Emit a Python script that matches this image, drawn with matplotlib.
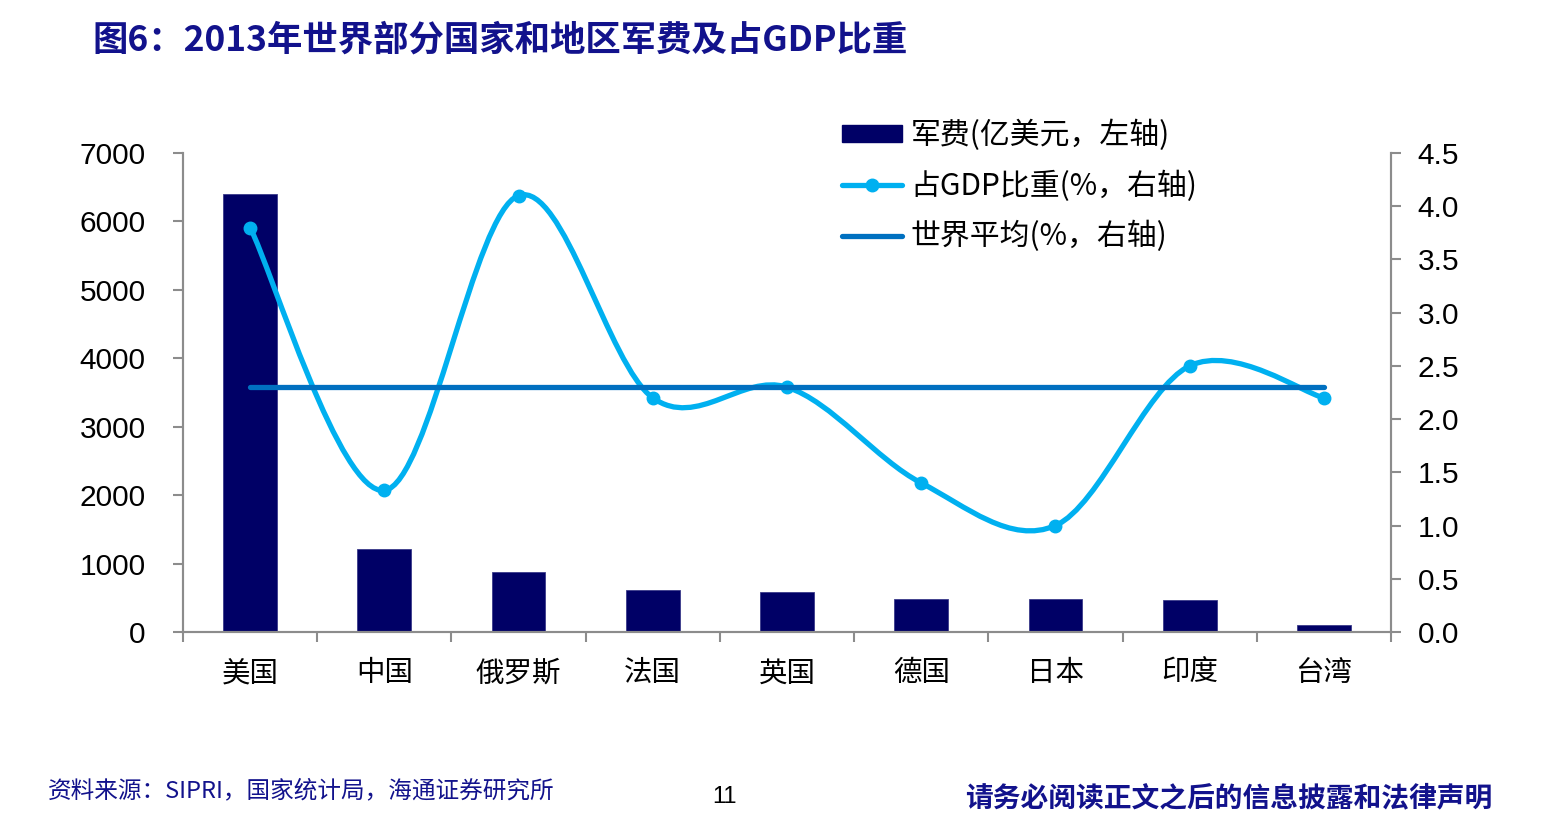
import numpy as np
import matplotlib
matplotlib.use("Agg")
import matplotlib.pyplot as plt
from matplotlib.path import Path
from matplotlib.patches import PathPatch, Patch
from matplotlib.lines import Line2D
from matplotlib.ticker import FixedLocator, FormatStrFormatter

plt.rcParams['font.family'] = ['Liberation Sans', 'Noto Sans CJK SC', 'DejaVu Sans']

# ---- data ----
categories = ['美国', '中国', '俄罗斯', '法国', '英国', '德国', '日本', '印度', '台湾']
spending = [6400, 1210, 880, 610, 580, 480, 480, 470, 100]          # 亿美元
gdp_share = [3.8, 1.33, 4.1, 2.2, 2.3, 1.4, 1.0, 2.5, 2.2]        # %
world_avg = [2.3] * len(categories)                                # %
left_ticks = [0, 1000, 2000, 3000, 4000, 5000, 6000, 7000]
right_ticks = [0.0, 0.5, 1.0, 1.5, 2.0, 2.5, 3.0, 3.5, 4.0, 4.5]

title = '图6：2013年世界部分国家和地区军费及占GDP比重'
leg_labels = ['军费(亿美元，左轴)', '占GDP比重(%，右轴)', '世界平均(%，右轴)']
source = '资料来源：SIPRI，国家统计局，海通证券研究所'
page = '11'
disclaimer = '请务必阅读正文之后的信息披露和法律声明'

BAR = '#000066'
CURVE = '#00B0F0'
AVG = '#0070C0'
AXC = '#8C8C8C'
NAVY = '#12128C'
CJK = ['Noto Sans CJK SC', 'DejaVu Sans']

fig = plt.figure(figsize=(15.6, 8.25), dpi=100)
ax = fig.add_axes([183/1560, 1-632/825, (1391-183)/1560, (632-153)/825])
ax2 = ax.twinx()

x = np.arange(len(categories))
ax.bar(x, spending, width=0.4, color=BAR, edgecolor='#3A3A8A', linewidth=0.6, zorder=2)
ax.set_xlim(-0.5, len(categories) - 0.5)
ax.set_ylim(0, 7000)
ax2.set_ylim(0, 4.5)

# smooth (Excel-like Catmull-Rom Bezier) curve through the share points
pts = np.column_stack([x, gdp_share]).astype(float)
n = len(pts)
verts = [tuple(pts[0])]
codes = [Path.MOVETO]
for i in range(n - 1):
    p_prev = pts[i - 1] if i > 0 else pts[i]
    p0 = pts[i]
    p1 = pts[i + 1]
    p_next = pts[i + 2] if i + 2 < n else pts[i + 1]
    c1 = p0 + (p1 - p_prev) / 6.0
    c2 = p1 - (p_next - p0) / 6.0
    verts += [tuple(c1), tuple(c2), tuple(p1)]
    codes += [Path.CURVE4] * 3
ax2.add_patch(PathPatch(Path(verts, codes), fill=False, edgecolor=CURVE,
                        linewidth=3.8, capstyle='round', joinstyle='round', zorder=3))
ax2.plot(x, gdp_share, linestyle='none', marker='o', markersize=9,
         color=CURVE, zorder=4)
ax2.plot(x, world_avg, color=AVG, linewidth=3.8, solid_capstyle='round', zorder=5)

# spines
for a in (ax, ax2):
    a.spines['top'].set_visible(False)
    for s in ('left', 'right', 'bottom'):
        a.spines[s].set_color(AXC)
        a.spines[s].set_linewidth(1.5)

ax.yaxis.set_major_locator(FixedLocator(left_ticks))
ax.tick_params(axis='y', direction='out', length=7, width=1.5, color=AXC,
               labelsize=21.5, pad=20)
ax2.yaxis.set_major_locator(FixedLocator(right_ticks))
ax2.yaxis.set_major_formatter(FormatStrFormatter('%.1f'))
ax2.tick_params(axis='y', direction='out', length=7, width=1.5, color=AXC,
                labelsize=21.5, pad=12)

ax.set_xticks(x)
ax.set_xticklabels(categories, fontfamily=CJK, fontsize=20.5)
ax.tick_params(axis='x', which='major', length=0, pad=19)
ax.set_xticks(np.arange(-0.5, len(categories), 1.0), minor=True)
ax.tick_params(axis='x', which='minor', direction='out', length=7, width=1.5, color=AXC)
ax2.tick_params(axis='x', length=0)

# legend
handles = [
    Patch(facecolor=BAR, edgecolor=BAR),
    Line2D([], [], color=CURVE, linewidth=3.8, marker='o', markersize=9,
           solid_capstyle='round'),
    Line2D([], [], color=AVG, linewidth=3.8, solid_capstyle='round'),
]
fig.legend(handles, leg_labels, loc='upper left', bbox_to_anchor=(842/1560, 1-120/825),
           frameon=False, prop={'family': CJK, 'size': 21.5}, handlelength=2.0,
           handleheight=0.5, handletextpad=0.3, labelspacing=0.64, borderpad=0,
           borderaxespad=0)

# title and footer
fig.text(92/1560, 1-40/825, title, fontfamily=CJK, fontsize=25.5, fontweight='bold',
         color=NAVY, ha='left', va='center')
fig.text(48/1560, 1-791/825, source, fontfamily=CJK, fontsize=17, color=NAVY,
         ha='left', va='center')
fig.text(724/1560, 1-797/825, page, fontsize=17, color='black', ha='center', va='center')
fig.text(1492/1560, 1-798/825, disclaimer, fontfamily=CJK, fontsize=20,
         fontweight='bold', color=NAVY, ha='right', va='center')

fig.savefig('out.png', dpi=100)
